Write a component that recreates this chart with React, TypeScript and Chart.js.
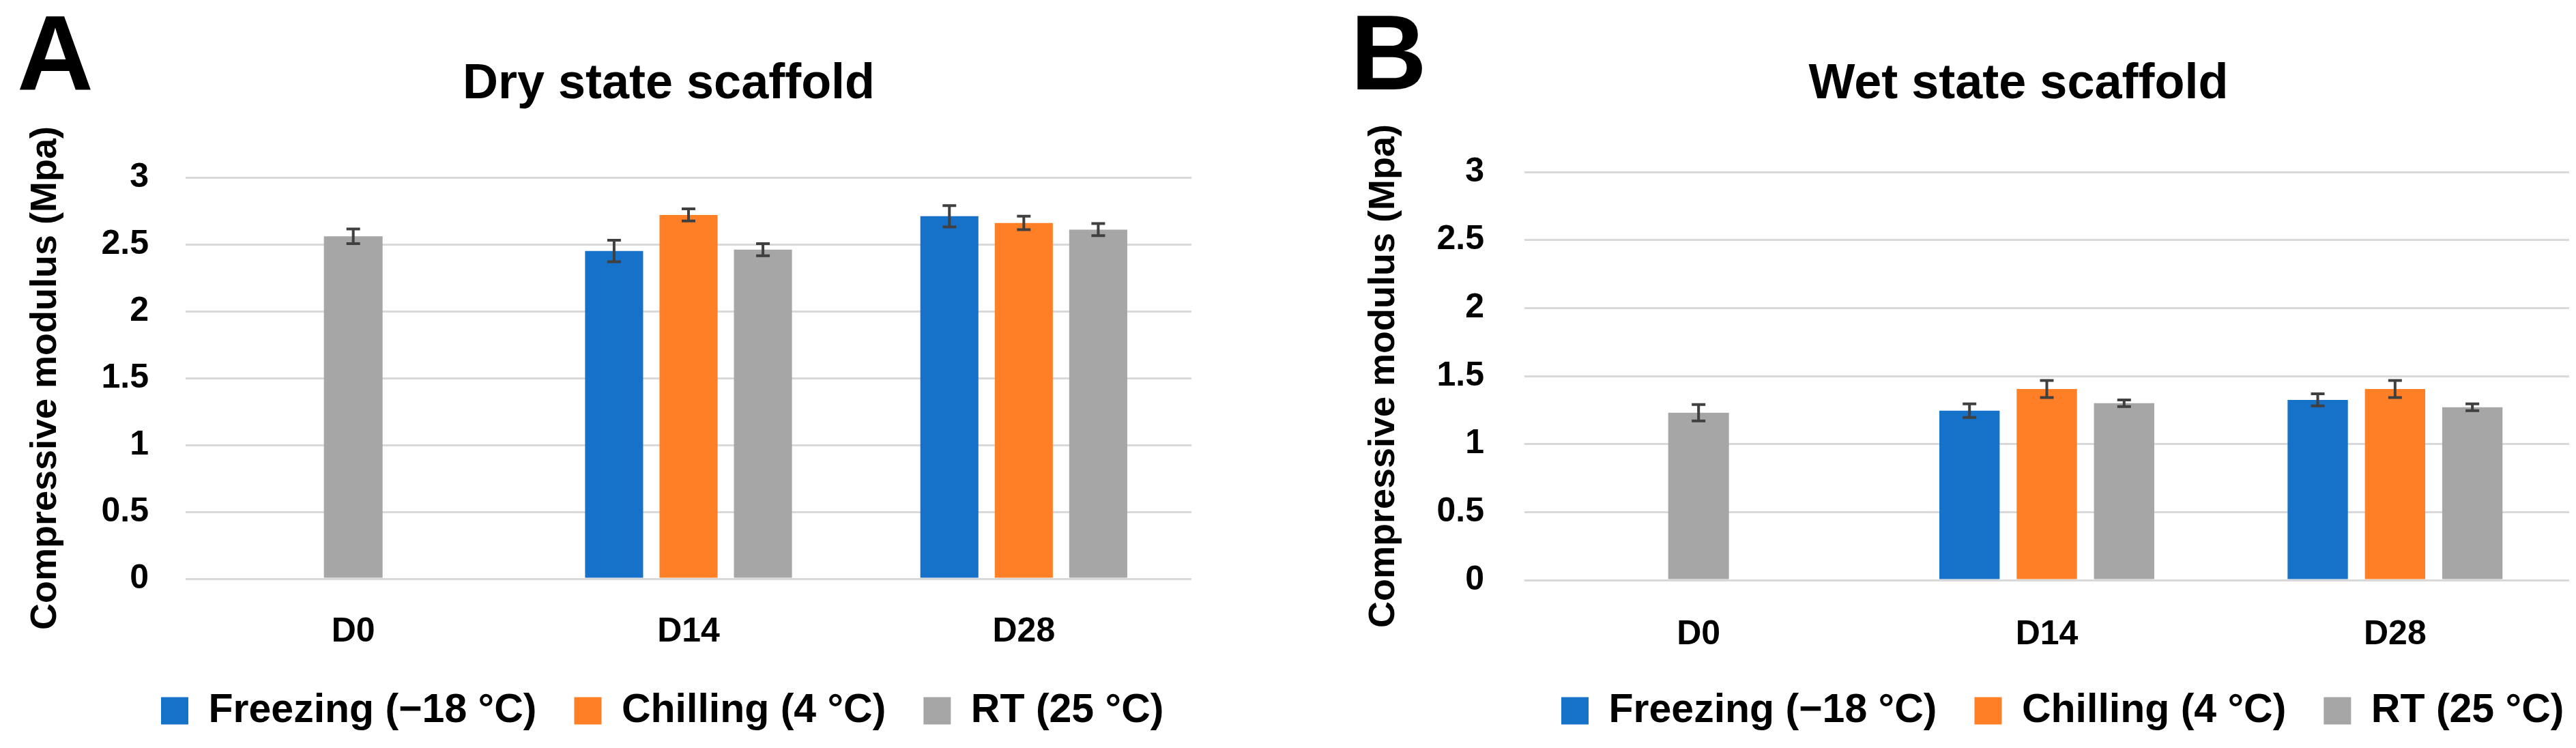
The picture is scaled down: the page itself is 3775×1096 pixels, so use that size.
import React, { useEffect, useRef } from "react";
import { Chart, registerables } from "chart.js";

Chart.register(...registerables);

// ---------- data ----------
const categories = ["D0", "D14", "D28"];
const seriesNames = ["Freezing (\u221218 \u00b0C)", "Chilling (4 \u00b0C)", "RT (25 \u00b0C)"];
const seriesColors = ["#1671C9", "#FF7F27", "#A6A6A6"];
const yTickValues = [0, 0.5, 1, 1.5, 2, 2.5, 3];

const dryFreezing = [null, 2.45, 2.71];
const dryChilling = [null, 2.72, 2.66];
const dryRT = [2.56, 2.46, 2.61];
const dryFreezingErr = [null, 0.08, 0.08];
const dryChillingErr = [null, 0.045, 0.05];
const dryRTErr = [0.055, 0.045, 0.045];

const wetFreezing = [null, 1.245, 1.325];
const wetChilling = [null, 1.405, 1.405];
const wetRT = [1.23, 1.3, 1.27];
const wetFreezingErr = [null, 0.05, 0.045];
const wetChillingErr = [null, 0.063, 0.063];
const wetRTErr = [0.06, 0.025, 0.025];

const yAxisTitle = "Compressive modulus (Mpa)";

// ---------- styling ----------
const FONT = "'Liberation Sans', Arial, sans-serif";
const PAGE_W = 3775;
const PAGE_H = 1096;

const errorBarPlugin = {
  id: "errorBars",
  afterDatasetsDraw(chart: any) {
    const ctx = chart.ctx;
    const y = chart.scales.y;
    chart.data.datasets.forEach((ds: any, i: number) => {
      const meta = chart.getDatasetMeta(i);
      if (meta.hidden) return;
      meta.data.forEach((bar: any, j: number) => {
        const v = ds.data[j];
        const e = ds.errors ? ds.errors[j] : null;
        if (v == null || e == null) return;
        const top = y.getPixelForValue(v + e);
        const bot = y.getPixelForValue(v - e);
        ctx.save();
        ctx.strokeStyle = "#404040";
        ctx.lineWidth = 4;
        ctx.beginPath();
        ctx.moveTo(bar.x, top);
        ctx.lineTo(bar.x, bot);
        ctx.moveTo(bar.x - 10, top);
        ctx.lineTo(bar.x + 10, top);
        ctx.moveTo(bar.x - 10, bot);
        ctx.lineTo(bar.x + 10, bot);
        ctx.stroke();
        ctx.restore();
      });
    });
  },
};

const placePlugin = {
  id: "place",
  afterLayout(chart: any, _args: any, opts: any) {
    const t = chart.titleBlock;
    if (t && opts && opts.titleCenter != null) {
      const dx = opts.titleCenter - (t.left + t.right) / 2;
      t.left += dx;
      t.right += dx;
    }
    const lg = chart.legend;
    if (lg && opts && opts.legendStart != null && lg.lineWidths) {
      const p = lg.options.labels.padding;
      const start = (lg.left + p + lg.right - lg.lineWidths[0]) / 2;
      const dx = opts.legendStart - start;
      lg.left += dx;
      lg.right += dx;
    }
  },
};

type PanelProps = {
  letter: string;
  title: string;
  series: (number | null)[][];
  errors: (number | null)[][];
  geom: {
    pageLeft: number;
    width: number;
    letterLeft: number;
    padRight: number;
    yWidth: number;
    yTitlePad: number;
    yTickPad: number;
    titlePadBottom: number;
    xHeight: number;
    xTickPad: number;
    maxBar: number;
    titleCenter: number;
    legendStart: number;
  };
};

function Panel({ letter, title, series, errors, geom }: PanelProps) {
  const ref = useRef<HTMLCanvasElement | null>(null);
  useEffect(() => {
    if (!ref.current) return;
    const chart = new Chart(ref.current, {
      type: "bar",
      data: {
        labels: categories,
        datasets: series.map((d, i) => ({
          label: seriesNames[i],
          data: d,
          errors: errors[i],
          backgroundColor: seriesColors[i],
          borderColor: seriesColors[i],
          borderWidth: 0,
        })) as any,
      },
      options: {
        animation: false,
        responsive: false,
        devicePixelRatio: 1,
        color: "#000",
        font: { family: FONT },
        layout: { padding: { left: 0, right: geom.padRight, top: 0, bottom: 15 } },
        datasets: {
          bar: {
            categoryPercentage: 0.666,
            barPercentage: 0.78,
            skipNull: true,
            maxBarThickness: geom.maxBar,
          },
        } as any,
        scales: {
          x: {
            grid: { display: false, drawTicks: false },
            border: { display: false },
            ticks: {
              color: "#000",
              padding: geom.xTickPad,
              font: { family: FONT, size: 50, weight: "bold" },
            },
            afterFit: (s: any) => {
              s.height = geom.xHeight;
            },
          },
          y: {
            min: 0,
            max: 3,
            afterBuildTicks: (s: any) => {
              s.ticks = yTickValues.map((v) => ({ value: v }));
            },
            grid: { color: "#D9D9D9", lineWidth: 3, drawTicks: false },
            border: { display: false },
            ticks: {
              color: "#000",
              padding: geom.yTickPad,
              font: { family: FONT, size: 50, weight: "bold" },
              callback: (v: any) => String(Number(v)),
            },
            title: {
              display: true,
              text: yAxisTitle,
              color: "#000",
              padding: { top: geom.yTitlePad, bottom: 0 },
              font: { family: FONT, size: 54, weight: "bold", lineHeight: 1.2 },
            },
            afterFit: (s: any) => {
              s.width = geom.yWidth;
            },
          },
        },
        plugins: {
          title: {
            display: true,
            text: title,
            color: "#000",
            padding: { top: 81, bottom: geom.titlePadBottom },
            font: { family: FONT, size: 72, weight: "bold", lineHeight: 1.2 },
          },
          legend: {
            display: true,
            position: "bottom",
            labels: {
              color: "#000",
              boxWidth: 40,
              boxHeight: 40,
              padding: 55,
              font: { family: FONT, size: 59, weight: "bold" },
            },
          },
          tooltip: { enabled: false },
          place: { titleCenter: geom.titleCenter, legendStart: geom.legendStart },
        } as any,
      },
      plugins: [errorBarPlugin, placePlugin],
    });
    return () => chart.destroy();
  }, []);

  return (
    <>
      <canvas
        ref={ref}
        width={geom.width}
        height={PAGE_H}
        style={{
          position: "absolute",
          left: geom.pageLeft,
          top: 0,
          width: geom.width,
          height: PAGE_H,
        }}
      />
      <div
        style={{
          position: "absolute",
          left: geom.letterLeft,
          top: 0,
          fontFamily: FONT,
          fontWeight: "bold",
          fontSize: 155,
          lineHeight: 1,
          color: "#000",
        }}
      >
        {letter}
      </div>
    </>
  );
}

export default function App() {
  return (
    <div
      style={{
        position: "absolute",
        left: 0,
        top: 0,
        width: PAGE_W,
        height: PAGE_H,
        background: "#fff",
        overflow: "hidden",
      }}
    >
      <Panel
        letter="A"
        title="Dry state scaffold"
        series={[dryFreezing, dryChilling, dryRT]}
        errors={[dryFreezingErr, dryChillingErr, dryRTErr]}
        geom={{
          pageLeft: 0,
          width: 1900,
          letterLeft: 25,
          padRight: 154,
          yWidth: 272,
          yTitlePad: 35,
          yTickPad: 54,
          titlePadBottom: 92.6,
          xHeight: 109,
          xTickPad: 48.7,
          maxBar: 86,
          titleCenter: 980,
          legendStart: 236,
        }}
      />
      <Panel
        letter="B"
        title="Wet state scaffold"
        series={[wetFreezing, wetChilling, wetRT]}
        errors={[wetFreezingErr, wetChillingErr, wetRTErr]}
        geom={{
          pageLeft: 1900,
          width: 1875,
          letterLeft: 1979,
          padRight: 10,
          yWidth: 334,
          yTitlePad: 95.6,
          yTickPad: 59,
          titlePadBottom: 84.6,
          xHeight: 107,
          xTickPad: 50.7,
          maxBar: 89,
          titleCenter: 1058,
          legendStart: 388,
        }}
      />
    </div>
  );
}
